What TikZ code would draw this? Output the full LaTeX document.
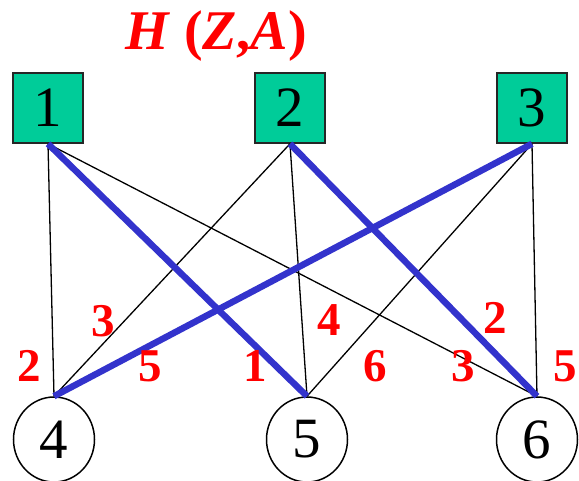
\documentclass[tikz,border=0pt]{standalone}
\usepackage{fontspec}
\setmainfont{Liberation Serif}
\usetikzlibrary{shapes.geometric}
\definecolor{sqgreen}{RGB}{0,204,153}
\definecolor{edgeblue}{RGB}{51,51,204}
\begin{document}
\begin{tikzpicture}[x=1pt,y=-1pt,
  sq/.style={draw=black!85,fill=sqgreen,line width=1.6pt,minimum width=70pt,minimum height=70pt,inner sep=0pt,font=\fontsize{57}{57}\selectfont},
  circ/.style={draw=black,ellipse,line width=1.5pt,minimum width=81pt,minimum height=85pt,inner sep=0pt,font=\fontsize{57}{57}\selectfont},
  thinedge/.style={draw=black,line width=1.3pt},
  thickedge/.style={draw=edgeblue,line width=6.5pt},
  wt/.style={text=red,font=\fontsize{47}{47}\selectfont\bfseries,inner sep=0pt}]
\useasboundingbox (0,0) rectangle (579,480);
\node[text=red,font=\fontsize{56}{56}\selectfont\bfseries,inner sep=0pt] (title) at (216,36) {\textit{H} (\textit{Z},\textit{A})};
\node[sq] (s1) at (48,108) {1};
\node[sq] (s2) at (290,108) {2};
\node[sq] (s3) at (532,108) {3};
\node[circ] (c4) at (54,439.5) {4};
\node[circ] (c5) at (307,439.5) {5};
\node[circ] (c6) at (537,439.5) {6};
% thin edges
\draw[thinedge] (s1.south) -- (c4.north);
\draw[thinedge] (s1.south) -- (c6.north);
\draw[thinedge] (s2.south) -- (c4.north);
\draw[thinedge] (s2.south) -- (c5.north);
\draw[thinedge] (s3.south) -- (c5.north);
\draw[thinedge] (s3.south) -- (c6.north);
% thick edges
\draw[thickedge] (s1.south) -- (c5.north);
\draw[thickedge] (s2.south) -- (c6.north);
\draw[thickedge] (s3.south) -- (c4.north);
% weights
\node[wt] (w14) at (29,366) {2};
\node[wt] (w24) at (103,321) {3};
\node[wt] (w34) at (150,366) {5};
\node[wt] (w15) at (255,366) {1};
\node[wt] (w25) at (329,320) {4};
\node[wt] (w35) at (375,366) {6};
\node[wt] (w16) at (463,366) {3};
\node[wt] (w26) at (495,318) {2};
\node[wt] (w36) at (565,366) {5};
\end{tikzpicture}
\end{document}
